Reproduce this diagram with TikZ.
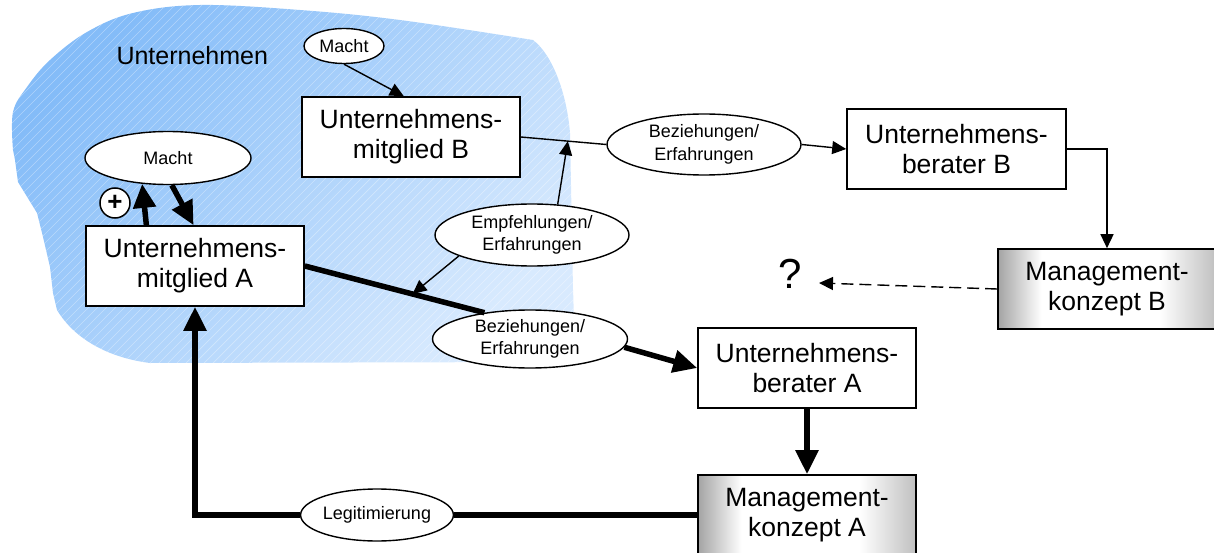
\documentclass[tikz,border=0pt]{standalone}
\usepackage{fontspec}
\setmainfont{Liberation Sans}
\usetikzlibrary{arrows.meta,shapes.geometric,calc}
\definecolor{blobdark}{HTML}{84BCF8}
\definecolor{blobmid}{HTML}{AED4FC}
\definecolor{bloblight}{HTML}{D8EAFE}
\definecolor{mgray}{HTML}{A4A4A4}
\definecolor{mgrayb}{HTML}{C0C0C0}
\pgfdeclarehorizontalshading{mgmtshade}{100bp}{color(0bp)=(mgray); color(25bp)=(mgray); color(35bp)=(white); color(62bp)=(white); color(75bp)=(mgrayb); color(100bp)=(mgrayb)}
% outline of the company area
\def\blobpath{plot[smooth, tension=0.6] coordinates {(13,150) (13,112) (27,87) (50,60) (87,32) (133,13) (200,5) (300,10) (400,20) (533,40)}
  .. controls (553,55) and (567,95) .. (570,133)
  -- (573,290)
  .. controls (575,330) and (572,356) .. (555,362)
  -- (150,363)
  .. controls (110,358) and (75,340) .. (57,310)
  -- (53,293) -- (50,267) -- (43,237) -- (37,213) -- (18,182) -- (15,160) -- cycle}
\tikzset{
  box/.style={draw, line width=1.6pt, fill=white, minimum width=218pt,
    minimum height=80pt, inner sep=0pt, align=center,
    font=\fontsize{26.5}{30}\selectfont},
  mgmt/.style={box, shade, shading=mgmtshade},
  oval/.style={ellipse, draw, line width=1.4pt, fill=white, inner sep=0pt,
    align=center, font=\fontsize{18}{22.5}\selectfont},
  thinarrow/.style={line width=1.4pt, -{Triangle[length=14pt,width=13pt]}},
  thickline/.style={line width=5.5pt},
  thickarrow/.style={line width=5.5pt, -{Triangle[length=24pt,width=22pt]}},
}
\begin{document}
\begin{tikzpicture}[x=1pt,y=-1pt]
\useasboundingbox (0,0) rectangle (1214,553);

% company area: gradient with faint diagonal hatching
\shade[top color=blobdark, middle color=blobmid, bottom color=bloblight, shading angle=45] \blobpath;
\begin{scope}
  \clip \blobpath;
  \foreach \s in {-380,-371,...,600}
    \draw[white, opacity=0.35, line width=0.7pt] (\s,380) -- ++(400,-400);
\end{scope}
\node[anchor=base west, font=\fontsize{25}{25}\selectfont] (firm) at (113,65) {Unternehmen};

% boxes
\node[box] (A) at (195,266) {Unternehmens-\\mitglied A};
\node[box] (B) at (411,137) {Unternehmens-\\mitglied B};
\node[box, minimum width=219pt] (berB) at (956.5,149) {Unternehmens-\\berater B};
\node[box] (berA) at (807,368) {Unternehmens-\\berater A};
\node[mgmt] (mA) at (807,515) {Management-\\konzept A};
\node[mgmt] (mB) at (1107,289) {Management-\\konzept B};

% ovals
\node[oval, minimum width=80pt, minimum height=35pt] (mtop) at (344,46) {Macht};
\node[oval, minimum width=166pt, minimum height=53pt] (mleft) at (168,158) {Macht};
\node[oval, minimum width=194pt, minimum height=62pt] (empf) at (532,235) {Empfehlungen/\\Erfahrungen};
\node[oval, minimum width=194pt, minimum height=61pt] (bezup) at (704,144.5) {Beziehungen/\\Erfahrungen};
\node[oval, minimum width=195pt, minimum height=58pt] (bezlow) at (530,339) {Beziehungen/\\Erfahrungen};
\node[oval, minimum width=149pt, minimum height=52pt] (legit) at (377,515) {Legitimierung};

% small marks
\node[circle, draw, line width=1.5pt, fill=white, minimum size=30pt, inner sep=0pt,
  font=\bfseries\fontsize{26}{26}\selectfont] (plus) at (115,203) {+};
\node[font=\fontsize{42}{42}\selectfont] (q) at (790,274) {?};
\coordinate (qtip) at (819,283);

% helper points on connectors
\coordinate (j1) at ($(B.east)!0.55!(bezup.west)$);
\coordinate (j2) at ($(A.east)!0.6!(bezlow.150)$);

% thin connectors
\draw[thinarrow] (mtop.south) -- (B.100);
\draw[line width=1.4pt] (B.east) -- (bezup.west);
\draw[thinarrow] (bezup.east) -- (berB.west);
\draw[thinarrow] (berB.east) -| (mB.north);
\draw[thinarrow] (empf.50) -- (j1);
\draw[thinarrow] (empf.196) -- (j2);
\draw[thinarrow, dash pattern=on 12pt off 6pt] (mB.west) -- (qtip);

% thick connectors
\draw[thickarrow] (A.140) -- (mleft.225);
\draw[thickarrow] (mleft.278) -- (A.92);
\draw[thickline] (A.east) -- (bezlow.150);
\draw[thickarrow] (bezlow.-5) -- (berA.west);
\draw[thickarrow] (berA.south) -- (mA.north);
\draw[thickline] (mA.west) -- (legit.east);
\draw[thickarrow] (legit.west) -| (A.south);
\end{tikzpicture}
\end{document}
